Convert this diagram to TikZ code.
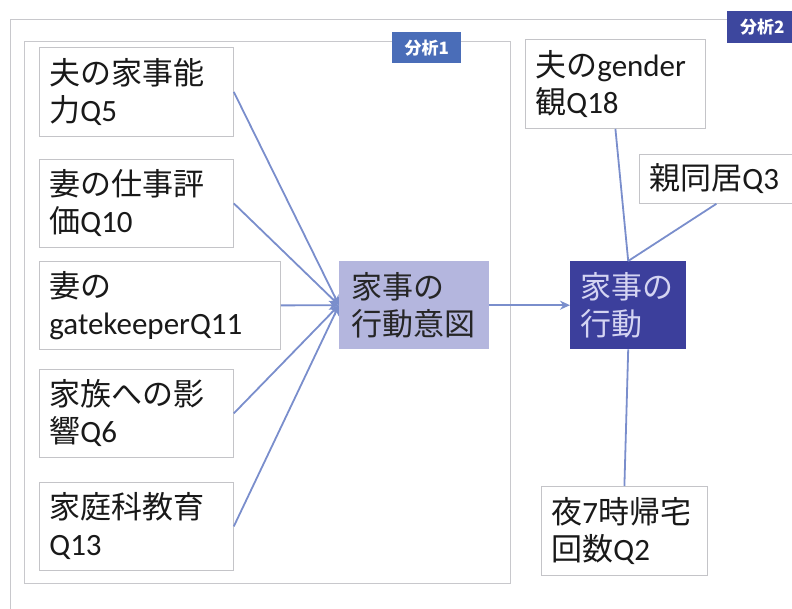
\documentclass[tikz,border=0pt]{standalone}
\usepackage{fontspec}
\setmainfont{Carlito}
\newfontfamily\cjk{Noto Sans CJK JP}
\usetikzlibrary{arrows.meta}
\definecolor{edgeblue}{HTML}{7A8ECC}
\definecolor{boxgray}{HTML}{C4C4C8}
\definecolor{framegray}{HTML}{C8C8CC}
\definecolor{lightnode}{HTML}{B4B6DE}
\definecolor{darknode}{HTML}{3C3F9C}
\definecolor{darktext}{HTML}{D4D4F2}
\definecolor{labelone}{HTML}{4A6DB8}
\definecolor{labeltwo}{HTML}{3D479E}
\begin{document}
\begin{tikzpicture}[x=1pt,y=-1pt,
  box/.style={draw=boxgray, line width=0.8pt, fill=white, anchor=north west, align=left,
    inner xsep=10pt, inner ysep=0pt, font=\fontsize{31}{37}\selectfont, text=black!90},
  conn/.style={draw=edgeblue, line width=1.8pt},
  arr/.style={conn, -{Stealth[length=10pt,width=9pt]}},
  tag/.style={anchor=north west, text=white, inner sep=0pt, font=\cjk\bfseries\fontsize{17}{20}\selectfont}]
\useasboundingbox (0,0) rectangle (792,609);
\clip (0,0) rectangle (792,609);
\draw[framegray, line width=0.8pt] (10,19) rectangle (830,640);
\draw[framegray, line width=0.8pt] (24,41) rectangle (510,583);
\node[tag, fill=labelone, minimum width=69pt, minimum height=31pt] (tag1) at (392,32) {分析1};
\node[tag, fill=labeltwo, minimum width=70pt, minimum height=32pt] (tag2) at (727,11) {分析2};

\node[box, text width=174pt, minimum height=89pt] (q5) at (39,47) {{\cjk 夫の家事能}\\{\cjk 力}Q5};
\node[box, text width=174pt, minimum height=88pt] (q10) at (39,159) {{\cjk 妻の仕事評}\\{\cjk 価}Q10};
\node[box, text width=221pt, minimum height=88pt] (q11) at (39,261) {{\cjk 妻の}\\gatekeeperQ11};
\node[box, text width=174pt, minimum height=88pt] (q6) at (39,369) {{\cjk 家族への影}\\{\cjk 響}Q6};
\node[box, text width=174pt, minimum height=88pt] (q13) at (39,482) {{\cjk 家庭科教育}\\Q13};

\node[anchor=north west, fill=lightnode, align=left, inner xsep=12pt, inner ysep=0pt,
  text width=126pt, minimum height=88pt, font=\cjk\fontsize{31}{37}\selectfont, text=black!85] (intent) at (339,261) {家事の\\行動意図};
\node[anchor=north west, fill=darknode, align=left, inner xsep=10pt, inner ysep=0pt,
  text width=96pt, minimum height=88pt, font=\cjk\fontsize{31}{37}\selectfont, text=darktext] (act) at (570,261) {家事の\\行動};

\node[box, text width=160pt, minimum height=89pt] (q18) at (525,39) {{\cjk 夫の}gender\\{\cjk 観}Q18};
\node[box, text width=134pt, minimum height=49pt] (q3) at (639,154) {{\cjk 親同居}Q3};
\node[box, text width=146pt, minimum height=89pt] (q2) at (541,486) {{\cjk 夜}7{\cjk 時帰宅}\\{\cjk 回数}Q2};

\draw[arr] (q5.east) -- (intent.west);
\draw[arr] (q10.east) -- (intent.west);
\draw[arr] (q11.east) -- (intent.west);
\draw[arr] (q6.east) -- (intent.west);
\draw[arr] (q13.east) -- (intent.west);
\draw[arr] (intent.east) -- (act.west);
\draw[conn] (q18.south) -- (act.north);
\draw[conn] (q3.south) -- (act.north);
\draw[conn] (act.south) -- (q2.north);
\end{tikzpicture}
\end{document}
